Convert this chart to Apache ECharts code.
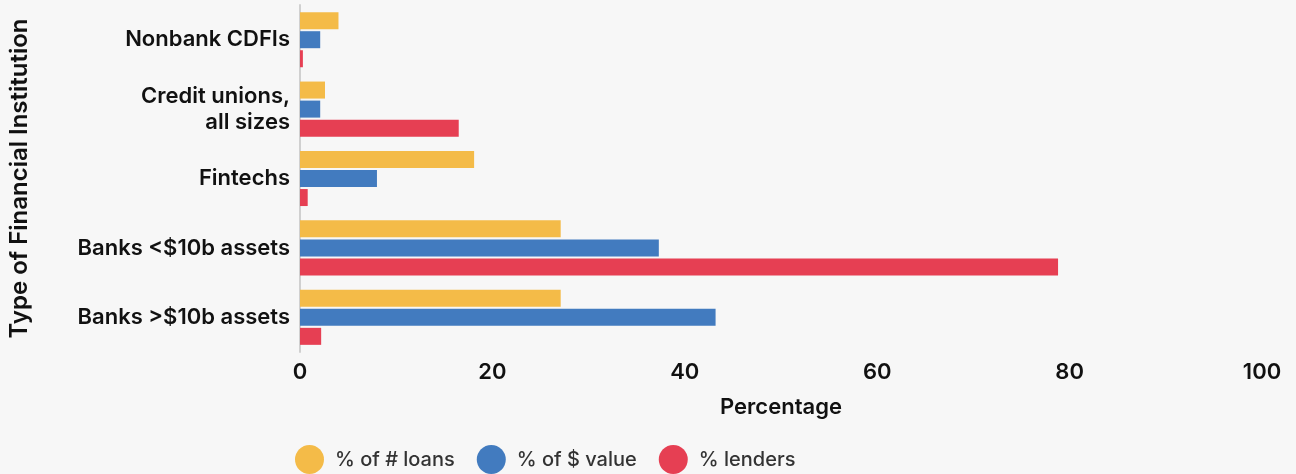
<!DOCTYPE html>
<html>
<head>
<meta charset="utf-8">
<script src="https://cdn.jsdelivr.net/npm/echarts@6/dist/echarts.min.js"></script>
<style>
  html, body { margin: 0; padding: 0; background: #f7f7f7; }
  #chart { width: 1296px; height: 474px; }
</style>
</head>
<body>
<div id="chart"></div>
<script>
  // categories, top to bottom
  var categories = ['Nonbank CDFIs', 'Credit unions,\nall sizes', 'Fintechs', 'Banks <$10b assets', 'Banks >$10b assets'];
  var seriesNames = ['% of # loans', '% of $ value', '% lenders'];
  var pctLoans = [4.0, 2.6, 18.1, 27.1, 27.1];
  var pctValue = [2.1, 2.1, 8.0, 37.3, 43.2];
  var pctLenders = [0.3, 16.5, 0.8, 78.8, 2.2];
  var colors = ['#f4bb48', '#427bbf', '#e63f53'];

  var font = 'Inter';
  var chart = echarts.init(document.getElementById('chart'));

  function bar(name, data, color) {
    return {
      name: name,
      type: 'bar',
      data: data,
      barWidth: 17,
      barGap: '12%',
      itemStyle: { color: color },
      emphasis: { disabled: true }
    };
  }

  chart.setOption({
    backgroundColor: '#f7f7f7',
    animation: false,
    grid: { left: 297, right: 34, top: 5, bottom: 122 },
    xAxis: {
      type: 'value',
      min: 0,
      max: 100,
      interval: 20,
      name: 'Percentage',
      nameLocation: 'middle',
      nameGap: 44,
      nameTextStyle: { fontFamily: font, fontWeight: 600, fontSize: 22, color: '#111' },
      axisLine: { show: false },
      axisTick: { show: false },
      splitLine: { show: false },
      axisLabel: { fontFamily: font, fontWeight: 600, fontSize: 22, color: '#111', margin: 9 }
    },
    yAxis: {
      type: 'category',
      data: categories,
      inverse: true,
      name: 'Type of Financial Institution',
      nameLocation: 'middle',
      nameGap: 268,
      nameTextStyle: { fontFamily: font, fontWeight: 600, fontSize: 24, color: '#111' },
      axisLine: { show: true, lineStyle: { color: '#d0d0d0', width: 2 } },
      axisTick: { show: false },
      axisLabel: { fontFamily: font, fontWeight: 600, fontSize: 22, color: '#111', margin: 10, lineHeight: 26, align: 'right' }
    },
    legend: {
      data: seriesNames,
      bottom: -5,
      left: 290,
      icon: 'circle',
      itemWidth: 29,
      itemHeight: 29,
      itemGap: 22,
      textStyle: { fontFamily: font, fontWeight: 500, fontSize: 20, color: '#333', padding: [0, 0, 0, 6] }
    },
    series: [
      bar(seriesNames[0], pctLoans, colors[0]),
      bar(seriesNames[1], pctValue, colors[1]),
      bar(seriesNames[2], pctLenders, colors[2])
    ]
  });
</script>
</body>
</html>
